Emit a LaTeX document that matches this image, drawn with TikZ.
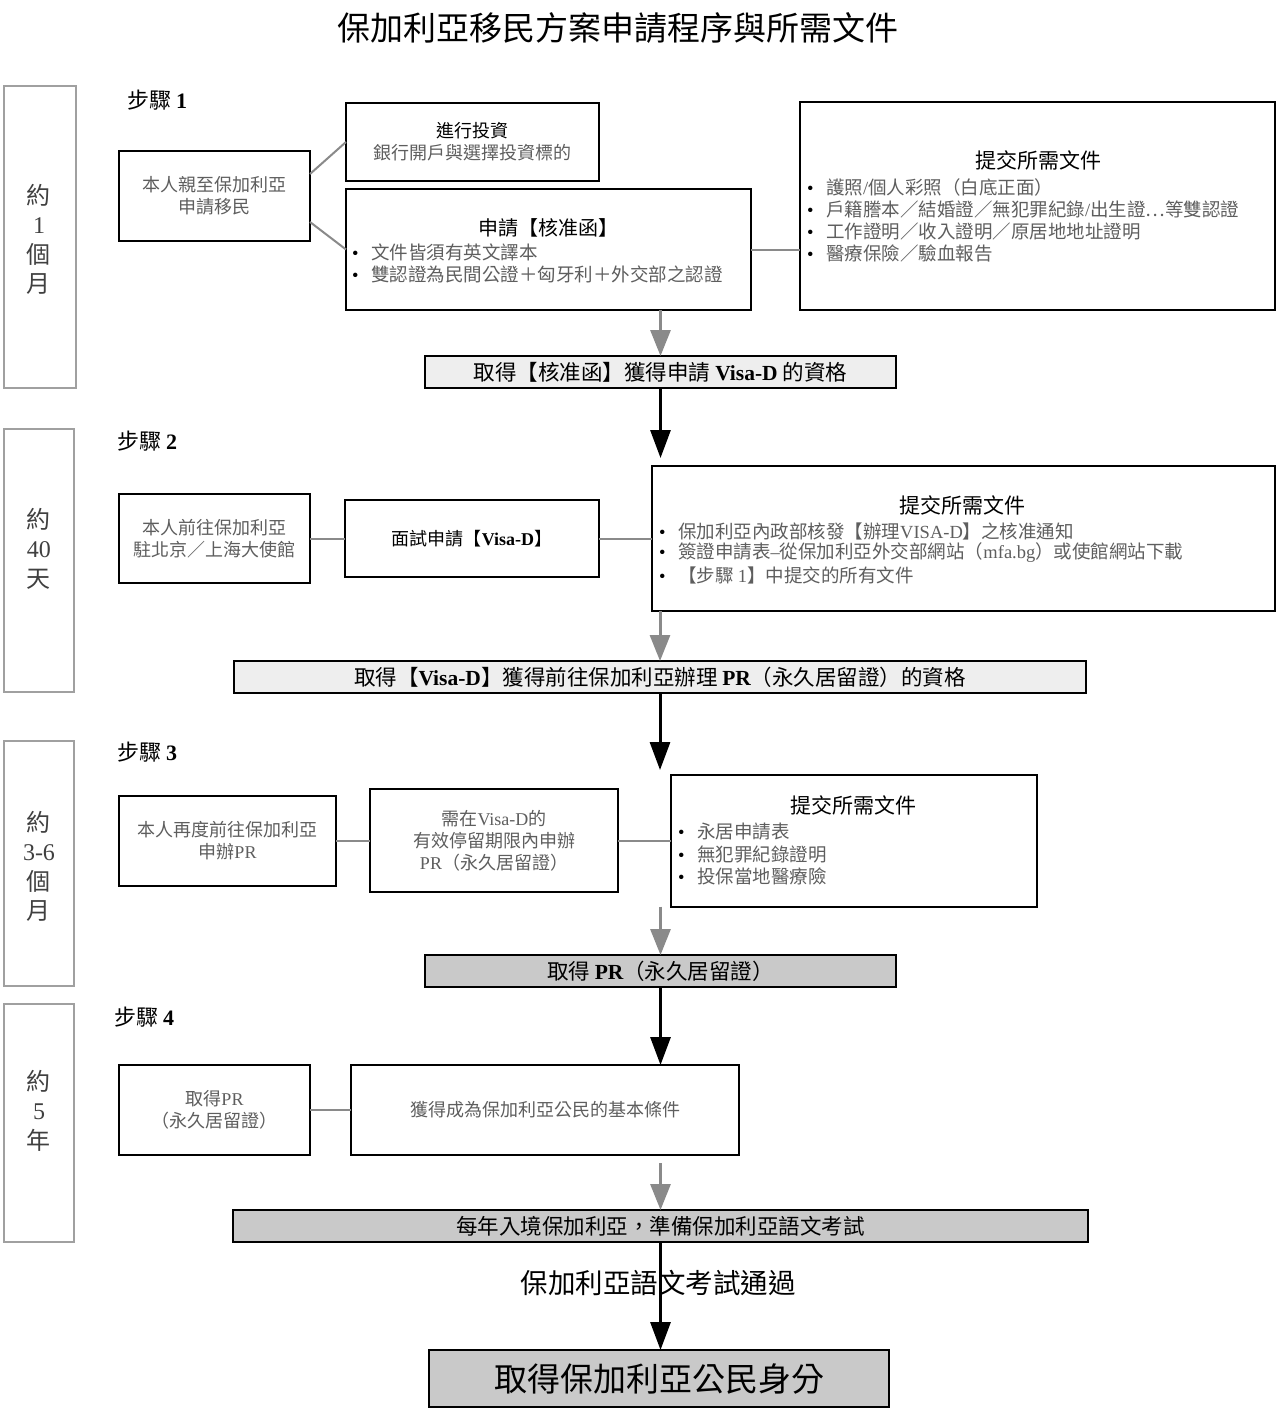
\documentclass[tikz,border=0pt]{standalone}
\usepackage{fontspec}
\setmainfont{Noto Sans CJK TC}
\newfontfamily\lat{Liberation Serif}
\usetikzlibrary{arrows.meta}
\definecolor{txtgray}{HTML}{5E5E5E}
\definecolor{linegray}{HTML}{8A8A8A}
\definecolor{colgray}{HTML}{A0A0A0}
\definecolor{lightfill}{HTML}{EEEEEE}
\definecolor{midfill}{HTML}{C9C9C9}
\newcommand\bul{\makebox[19pt][l]{\color{black}\lat •}}
\newcommand\bl[1]{{\lat\bfseries #1}}
\newcommand\lt[1]{{\lat #1}}
\begin{document}
\begin{tikzpicture}[x=1pt,y=-1pt,
  box/.style={draw=black, line width=2pt, inner sep=0pt, outer sep=0pt, fill=white, align=center,
              font=\fontsize{18pt}{22pt}\selectfont, text=txtgray},
  colbox/.style={draw=colgray, line width=2pt, inner sep=0pt, outer sep=0pt},
  coltext/.style={align=center, inner sep=0pt, text=black!75, font=\fontsize{24pt}{29.5pt}\selectfont},
  gbox/.style={draw=black, line width=2pt, inner sep=0pt, outer sep=0pt, fill=lightfill,
               font=\fontsize{21.5pt}{24pt}\selectfont, text=black},
  dbox/.style={gbox, fill=midfill},
  steplbl/.style={anchor=west, inner sep=0pt, font=\fontsize{22pt}{24pt}\selectfont, text=black},
  dtitle/.style={inner sep=0pt, font=\fontsize{21pt}{24pt}\selectfont, text=black},
  item/.style={anchor=west, inner sep=0pt, font=\fontsize{18.5pt}{22pt}\selectfont, text=txtgray},
  conn/.style={draw=linegray, line width=2pt},
  garrow/.style={draw=linegray, line width=3pt, -{Triangle[width=20pt,length=26pt]}, color=linegray},
  barrow/.style={draw=black, line width=3pt, -{Triangle[width=20pt,length=28pt]}}
]
\useasboundingbox (0,0) rectangle (1278,1418);

% title
\node[inner sep=0pt, font=\fontsize{33pt}{36pt}\selectfont] (title) at (618,28) {保加利亞移民方案申請程序與所需文件};

% time column
\node[colbox, minimum width=72pt, minimum height=302pt] (col1) at (40,237) {};
\node[colbox, minimum width=70pt, minimum height=263pt] (col2) at (39,560.5) {};
\node[colbox, minimum width=70pt, minimum height=245pt] (col3) at (39,863.5) {};
\node[colbox, minimum width=70pt, minimum height=238pt] (col4) at (39,1123) {};
\node[coltext] (t1) at (39,239.5) {約\\\lt{1}\\個\\月};
\node[coltext] (t2) at (39,548.5) {約\\\lt{40}\\天};
\node[coltext] (t3) at (39,866.5) {約\\\lt{3-6}\\個\\月};
\node[coltext] (t4) at (39,1110.5) {約\\\lt{5}\\年};

% step labels
\node[steplbl] (s1) at (127,100) {步驟 \bl{1}};
\node[steplbl] (s2) at (117,441) {步驟 \bl{2}};
\node[steplbl] (s3) at (117,752) {步驟 \bl{3}};
\node[steplbl] (s4) at (114,1017) {步驟 \bl{4}};

% ---------- step 1
\node[box, minimum width=191pt, minimum height=90pt] (A1) at (214.5,196) {本人親至保加利亞\\申請移民};
\node[box, minimum width=253pt, minimum height=78pt] (B1) at (472.5,142) {\textcolor{black}{進行投資}\\銀行開戶與選擇投資標的};
\node[box, minimum width=405pt, minimum height=121pt] (C1) at (548.5,249.5) {};
\node[dtitle, font=\fontsize{20pt}{24pt}\selectfont] (C1t) at (548,228) {申請【核准函】};
\node[item] (C1a) at (352,252) {\bul 文件皆須有英文譯本};
\node[item] (C1b) at (352,274) {\bul 雙認證為民間公證＋匈牙利＋外交部之認證};
\node[box, minimum width=475pt, minimum height=208pt] (D1) at (1037.5,206) {};
\node[dtitle] (D1t) at (1038,160) {提交所需文件};
\node[item] (D1a) at (807,187) {\bul 護照\lt{/}個人彩照（白底正面）};
\node[item] (D1b) at (807,209) {\bul 戶籍謄本／結婚證／無犯罪紀錄\lt{/}出生證⋯等雙認證};
\node[item] (D1c) at (807,231) {\bul 工作證明／收入證明／原居地地址證明};
\node[item] (D1d) at (807,253) {\bul 醫療保險／驗血報告};
\node[gbox, minimum width=471pt, minimum height=32pt] (G1) at (660.5,372) {取得【核准函】獲得申請 \bl{Visa-D} 的資格};

\draw[conn] ([yshift=22pt]A1.east) -- (B1.west);
\draw[conn] ([yshift=-26pt]A1.east) -- (C1.west);
\draw[conn] (C1.east) -- (C1.east -| D1.west);
\draw[garrow] (G1.north |- C1.south) -- (G1.north);
\coordinate (e1) at (660.5,458);
\draw[barrow] (G1.south) -- (e1);

% ---------- step 2
\node[box, minimum width=191pt, minimum height=89pt] (A2) at (214.5,538.5) {本人前往保加利亞\\駐北京／上海大使館};
\node[box, minimum width=254pt, minimum height=77pt, text=black] (B2) at (472,538.5) {面試申請【\bl{Visa-D}】};
\node[box, minimum width=623pt, minimum height=145pt] (D2) at (963.5,538.5) {};
\node[dtitle] (D2t) at (962,505) {提交所需文件};
\node[item] (D2a) at (659,531) {\bul 保加利亞內政部核發【辦理\lt{VISA-D}】之核准通知};
\node[item] (D2b) at (659,553) {\bul 簽證申請表\lt{–}從保加利亞外交部網站（\lt{mfa.bg}）或使館網站下載};
\node[item] (D2c) at (659,575) {\bul 【步驟 \lt{1}】中提交的所有文件};
\node[gbox, minimum width=852pt, minimum height=32pt] (G2) at (660,677) {取得【\bl{Visa-D}】獲得前往保加利亞辦理 \bl{PR}（永久居留證）的資格};

\draw[conn] (A2.east) -- (B2.west);
\draw[conn] (B2.east) -- (D2.west);
\draw[garrow] (G2.north |- D2.south) -- (G2.north);
\coordinate (e2) at (660,770);
\draw[barrow] (G2.south) -- (e2);

% ---------- step 3
\node[box, minimum width=217pt, minimum height=90pt] (A3) at (227.5,840.5) {本人再度前往保加利亞\\申辦\lt{PR}};
\node[box, minimum width=248pt, minimum height=103pt] (B3) at (494,840.5) {需在\lt{Visa-D}的\\有效停留期限內申辦\\\lt{PR}（永久居留證）};
\node[box, minimum width=366pt, minimum height=132pt] (D3) at (854,840.5) {};
\node[dtitle] (D3t) at (853,805) {提交所需文件};
\node[item] (D3a) at (678,832) {\bul 永居申請表};
\node[item] (D3b) at (678,854) {\bul 無犯罪紀錄證明};
\node[item] (D3c) at (678,876) {\bul 投保當地醫療險};
\node[dbox, minimum width=471pt, minimum height=32pt] (G3) at (660.5,971) {取得 \bl{PR}（永久居留證）};

\draw[conn] (A3.east) -- (B3.west);
\draw[conn] (B3.east) -- (D3.west);
\draw[garrow] (G3.north |- D3.south) -- (G3.north);

% ---------- step 4
\node[box, minimum width=191pt, minimum height=90pt] (A4) at (214.5,1110) {取得\lt{PR}\\（永久居留證）};
\node[box, minimum width=388pt, minimum height=90pt] (B4) at (545,1110) {獲得成為保加利亞公民的基本條件};
\draw[barrow] (G3.south) -- (G3.south |- B4.north);
\node[dbox, minimum width=855pt, minimum height=32pt] (G4) at (660.5,1226) {每年入境保加利亞，準備保加利亞語文考試};
\node[dbox, minimum width=460pt, minimum height=57pt, font=\fontsize{33pt}{36pt}\selectfont] (F) at (659,1378.5) {取得保加利亞公民身分};

\draw[conn] (A4.east) -- (B4.west);
\coordinate (s4) at (660.5,1163);
\draw[garrow] (s4) -- (G4.north);
\draw[barrow] (G4.south) -- (G4.south |- F.north);
\node[inner sep=0pt, font=\fontsize{27.5pt}{30pt}\selectfont] (pass) at (658,1283) {保加利亞語文考試通過};
\end{tikzpicture}
\end{document}
